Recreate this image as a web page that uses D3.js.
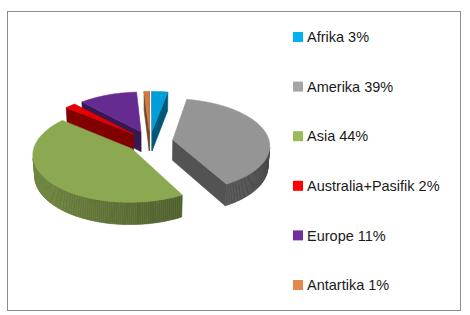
<!DOCTYPE html>
<html>
<head>
<meta charset="utf-8">
<script src="https://cdn.jsdelivr.net/npm/d3@7"></script>
<style>
  body { margin: 0; background: #fff; }
  svg { display: block; }
</style>
</head>
<body>
<div id="chart"></div>
<script>
// Data
const regions = ['Afrika', 'Amerika', 'Asia', 'Australia+Pasifik', 'Europe', 'Antartika'];
const percents = [3, 39, 44, 2, 11, 1];
const colors = ['#00b0f0', '#a5a5a5', '#9bbb59', '#ff0000', '#7030a0', '#e3894b'];

const width = 470, height = 315;

const svg = d3.select('#chart')
  .append('svg')
  .attr('width', width)
  .attr('height', height);

// Frame
svg.append('rect')
  .attr('x', 7.5).attr('y', 11.5)
  .attr('width', 453).attr('height', 299)
  .attr('fill', '#fff')
  .attr('stroke', '#8c8c8c');

// 3D view settings
const elev = 30 * Math.PI / 180;
const dist = 8, focal = 760;
const cx = 150, cy = 162;
const thick = 0.245, explode = 0.24;
const sinA = Math.sin(elev), cosA = Math.cos(elev);

// world (x, h, w) -> screen; w grows away from viewer
function project(x, h, w) {
  const d = dist + w * cosA - h * sinA;
  const u = h * cosA + w * sinA;
  return [cx + focal * x / d, cy - focal * u / d];
}

// is a vertical face with normal (nx, nw) at (x, w) facing the camera
function facing(x, w, nx, nw) {
  return nx * (-x) + nw * (-dist * cosA - w) > 0;
}

const shade = (c, k) => d3.interpolateRgb(c, '#000')(k);
const line = d3.line();

const pie = d3.pie().sort(null).value(d => d);
const slices = pie(percents).map((a, i) => {
  const mid = (a.startAngle + a.endAngle) / 2;
  return Object.assign({}, a, {
    i: i,
    ox: explode * Math.sin(mid),
    ow: explode * Math.cos(mid)
  });
});
// far slices first
slices.sort((a, b) => b.ow - a.ow);

const pieG = svg.append('g');

slices.forEach(s => {
  const g = pieG.append('g');
  const base = colors[s.i];
  const a0 = s.startAngle, a1 = s.endAngle;
  const rim = (t, h) => project(s.ox + Math.sin(t), h, s.ow + Math.cos(t));
  const tip = h => project(s.ox, h, s.ow);

  function poly(pts, fill) {
    g.append('path')
      .attr('d', line(pts) + 'Z')
      .attr('fill', fill)
      .attr('stroke', fill)
      .attr('stroke-width', 0.6)
      .attr('stroke-linejoin', 'round');
  }

  // radial walls
  const walls = [
    { t: a0, nx: -Math.cos(a0), nw: Math.sin(a0) },
    { t: a1, nx: Math.cos(a1), nw: -Math.sin(a1) }
  ];
  walls.forEach(wl => {
    const mx = s.ox + 0.5 * Math.sin(wl.t), mw = s.ow + 0.5 * Math.cos(wl.t);
    if (facing(mx, mw, wl.nx, wl.nw)) {
      poly([tip(0), tip(thick), rim(wl.t, thick), rim(wl.t, 0)], shade(base, 0.5));
    }
  });

  // outer curved wall
  const n = Math.max(2, Math.ceil((a1 - a0) / 0.02));
  for (let j = 0; j < n; j++) {
    const t0 = a0 + (a1 - a0) * j / n;
    const t1 = a0 + (a1 - a0) * (j + 1) / n;
    const tm = (t0 + t1) / 2;
    const nx = Math.sin(tm), nw = Math.cos(tm);
    if (facing(s.ox + nx, s.ow + nw, nx, nw)) {
      poly([rim(t0, thick), rim(t1, thick), rim(t1, 0), rim(t0, 0)],
        shade(base, 0.42 + 0.14 * nx));
    }
  }

  // top face
  const top = [tip(thick)];
  for (let j = 0; j <= n; j++) top.push(rim(a0 + (a1 - a0) * j / n, thick));
  poly(top, shade(base, 0.1));
});

// Legend
const legendY = d3.scalePoint()
  .domain(regions)
  .range([37, 285]);

const legend = svg.append('g')
  .selectAll('g')
  .data(regions)
  .enter().append('g')
  .attr('transform', d => `translate(293,${legendY(d)})`);

legend.append('rect')
  .attr('x', 0).attr('y', -5)
  .attr('width', 10).attr('height', 10)
  .attr('fill', (d, i) => colors[i]);

legend.append('text')
  .attr('x', 14).attr('y', 0)
  .attr('dy', '0.36em')
  .attr('font-family', '"Liberation Sans", Arial, sans-serif')
  .attr('font-size', '14.5px')
  .attr('fill', '#1a1a1a')
  .text((d, i) => `${d} ${percents[i]}%`);
</script>
</body>
</html>
